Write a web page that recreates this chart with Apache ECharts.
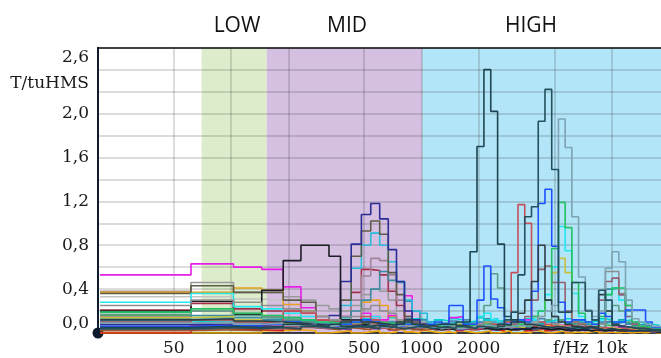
<!DOCTYPE html>
<html><head><meta charset="utf-8">
<script src="https://cdn.jsdelivr.net/npm/echarts@6/dist/echarts.min.js"></script>
<style>html,body{margin:0;padding:0;background:#fff;overflow:hidden}#c{width:661px;height:358px}</style>
</head><body><div id="c"></div>
<script>
// band edges (Hz) of the critical bands; each value holds from its edge to the next
const bandEdgesHz = [20.5,61.6,103,145,188,233,279,327,376,428,484,542,604,670,740,815,895,982,1074,1174,1281,1397,1522,1657,1803,1960,2131,2315,2515,2731,2965,3218,3493,3790,4112,4461,4840,5250,5694,6176,6698,7264,7877,8543,9265,10046,10894,11814,12810,13891,15063,16333,17710,19203];
const xTickValues = [50,100,200,500,1000,2000,5000,10000];
const xLabelValues = [50,100,200,500,1000,2000,6100,10000];
const xLabelTexts = ['50','100','200','500','1000','2000','f/Hz','10k'];
const yLabelTexts = {0:'0,0',4:'0,4',8:'0,8',12:'1,2',16:'1,6',20:'2,0',24:'T/tuHMS',26:'2,6'};
const regionNames = ['LOW','MID','HIGH'];
const regionFromHz = [70,154,1010];
const regionToHz = [154,1010,20000];

// background (low-level) series
const bgDarkBlue = [.06,.08,.07,.06,.08,.07,.05,.06,.07,.08, .06,.07,.05,.06,.08,.05,.06,.07,.05,.06, .04,.05,.07,.05,.04,.06,.05,.07,.05,.04, .05,.06,.04,.05,.07,.05,.04,.03,.05,.04, .03,.04,.05,.03,.04,.06,.04,.03,.04,.05, .03,.02,.03];
const bgRed = [.00,.07,.03,.02,.10,.12,.08,.05,.06,.07, .05,.04,.06,.03,.05,.04,.06,.03,.04,.05, .03,.04,.02,.05,.03,.04,.06,.03,.02,.04, .03,.05,.02,.03,.04,.02,.03,.05,.02,.03, .02,.03,.04,.02,.03,.02,.03,.04,.02,.03, .02,.01,.02];
const bgAmber = [.00,.00,.00,.02,.03,.02,.00,.01,.02,.00, .01,.02,.00,.01,.03,.01,.00,.02,.01,.00, .01,.00,.02,.01,.00,.01,.02,.00,.01,.02, .00,.01,.00,.02,.01,.00,.01,.02,.00,.01, .00,.01,.02,.00,.01,.00,.01,.00,.01,.00, .01,.00,.00];
const bgGreen = [.16,.12,.10,.08,.09,.10,.07,.08,.06,.09, .10,.08,.07,.09,.06,.08,.07,.05,.06,.07, .08,.06,.05,.07,.09,.06,.05,.08,.06,.05, .07,.06,.08,.05,.06,.04,.07,.05,.06,.04, .05,.06,.04,.05,.07,.06,.05,.04,.05,.03, .04,.03,.02];
const bgPurple = [.04,.05,.06,.05,.04,.06,.05,.04,.03,.05, .06,.04,.05,.03,.04,.05,.06,.04,.05,.03, .04,.05,.03,.04,.06,.04,.05,.03,.04,.05, .03,.04,.05,.03,.06,.04,.03,.05,.04,.03, .04,.05,.03,.04,.03,.05,.04,.03,.04,.03, .02,.03,.02];
const bgTeal = [.10,.12,.09,.11,.10,.08,.09,.07,.08,.10, .09,.07,.08,.10,.12,.09,.11,.08,.07,.09, .08,.10,.07,.09,.08,.10,.12,.09,.07,.08, .09,.07,.10,.08,.09,.11,.08,.07,.09,.08, .10,.08,.07,.09,.10,.08,.12,.09,.07,.08, .06,.05,.04];
const bgGray = [.03,.04,.05,.04,.06,.05,.07,.05,.04,.06, .05,.04,.06,.05,.07,.04,.05,.06,.04,.05, .06,.04,.05,.07,.05,.04,.06,.05,.04,.06, .05,.07,.04,.05,.06,.04,.05,.06,.04,.05, .04,.06,.05,.04,.05,.06,.04,.05,.03,.04, .03,.02,.02];
const bgBrown = [.02,.03,.02,.04,.03,.05,.04,.03,.05,.04, .03,.05,.04,.03,.04,.05,.03,.04,.05,.03, .04,.03,.05,.04,.03,.05,.04,.03,.04,.05, .03,.04,.03,.05,.04,.03,.04,.05,.03,.04, .03,.04,.05,.03,.04,.03,.04,.03,.04,.03, .02,.02,.01];
const bgSteel = [.09,.10,.12,.10,.14,.12,.10,.11,.09,.12, .10,.12,.09,.11,.10,.13,.11,.09,.10,.12, .09,.11,.10,.12,.09,.10,.13,.11,.09,.10, .12,.10,.09,.11,.13,.10,.09,.12,.10,.11, .09,.10,.12,.10,.11,.09,.10,.08,.09,.07, .06,.05,.04];
const bgPink = [.05,.06,.08,.07,.06,.05,.07,.06,.08,.07, .06,.08,.05,.07,.06,.05,.07,.06,.05,.08, .06,.07,.05,.06,.08,.07,.06,.05,.07,.06, .08,.05,.06,.07,.05,.06,.08,.07,.05,.06, .07,.05,.06,.08,.05,.06,.07,.05,.06,.05, .04,.03,.03];
const bgCyan = [.11,.10,.12,.13,.11,.12,.10,.12,.14,.11, .13,.12,.10,.14,.12,.11,.13,.12,.10,.12, .11,.13,.12,.10,.11,.14,.12,.13,.11,.10, .12,.11,.13,.12,.10,.11,.12,.10,.13,.11, .12,.10,.11,.13,.12,.10,.11,.12,.10,.09, .08,.07,.05];

// main series
const magenta = [.53,.63,.60,.58,.42,.23,.12,.10,.08,.12, .18,.15,.12,.16,.10,.34,.10,.06,.05,.06, .05,.14,.15,.05,.04,.08,.06,.05,.04,.05, .04,.06,.12,.08,.06,.05,.04,.05,.04,.03, .04,.05,.04,.03,.04,.05,.04,.03,.03,.04, .03,.02,.02];
const lightGray = [.33,.33,.31,.30,.22,.20,.15,.12,.10,.12, .15,.18,.15,.12,.10,.08,.07,.06,.05,.06, .05,.06,.04,.05,.06,.05,.04,.06,.05,.04, .05,.04,.06,.05,.04,.05,.04,.03,.04,.05, .04,.03,.04,.03,.04,.03,.04,.03,.03,.02, .02,.02,.01];
const gray = [.38,.46,.37,.37,.33,.30,.25,.22,.20,.25, .35,.40,.38,.30,.20,.15,.12,.10,.08,.06, .06,.07,.05,.06,.08,.06,.07,.05,.06,.05, .06,.05,.07,.06,.05,.06,.05,.04,.05,.04, .05,.04,.03,.04,.05,.04,.03,.04,.03,.03, .02,.02,.02];
const orange = [.37,.37,.41,.39,.26,.20,.10,.08,.06,.12, .28,.30,.25,.15,.12,.10,.08,.06,.05,.04, .05,.04,.06,.05,.04,.05,.08,.06,.05,.04, .05,.04,.05,.06,.05,.07,.08,.06,.04,.03, .03,.04,.03,.02,.03,.02,.03,.02,.02,.02, .02,.01,.01];
const black = [.20,.29,.17,.39,.66,.80,.80,.70,.12,.10, .08,.10,.07,.06,.08,.05,.04,.05,.04,.03, .04,.03,.05,.04,.05,.06,.04,.03,.04,.03, .03,.04,.03,.05,.04,.03,.04,.03,.02,.03, .03,.02,.03,.02,.03,.02,.02,.03,.02,.02, .02,.01,.01];
const navy = [.08,.07,.06,.08,.12,.10,.08,.16,.47,.81, 1.08,1.18,1.04,.76,.47,.20,.12,.08,.06,.05, .05,.06,.04,.05,.04,.05,.04,.03,.04,.05, .04,.03,.04,.05,.04,.03,.04,.03,.03,.02, .03,.02,.03,.02,.02,.03,.02,.02,.02,.02, .01,.01,.01];
const olive = [.36,.43,.37,.37,.30,.28,.15,.12,.30,.70, .93,1.02,.90,.55,.35,.15,.10,.08,.06,.05, .05,.04,.05,.06,.04,.05,.04,.05,.04,.03, .04,.05,.04,.03,.05,.04,.03,.04,.03,.03, .03,.02,.03,.02,.03,.02,.02,.02,.02,.02, .02,.01,.01];
const cyanMid = [.11,.14,.12,.10,.09,.10,.08,.10,.25,.59, .80,.91,.80,.65,.47,.30,.20,.18,.10,.08, .06,.05,.08,.06,.05,.07,.06,.05,.04,.05, .04,.05,.06,.04,.05,.04,.03,.04,.03,.04, .03,.04,.03,.02,.03,.02,.03,.02,.02,.02, .02,.02,.01];
const mauve = [.15,.20,.18,.15,.12,.10,.08,.09,.15,.30, .52,.68,.66,.53,.30,.15,.10,.08,.06,.05, .05,.06,.05,.04,.06,.05,.04,.05,.04,.05, .04,.05,.06,.04,.05,.04,.03,.04,.03,.04, .03,.04,.03,.02,.03,.02,.03,.02,.02,.02, .02,.01,.01];
const darkRed = [.21,.27,.22,.20,.20,.18,.12,.10,.15,.37, .58,.57,.53,.38,.25,.12,.08,.06,.05,.05, .04,.06,.05,.04,.05,.06,.05,.04,.05,.04, .05,.04,.06,.05,.04,.03,.04,.05,.04,.03, .03,.04,.03,.03,.02,.03,.02,.02,.02,.02, .02,.01,.01];
const teal = [.13,.16,.14,.12,.10,.09,.08,.07,.10,.20, .30,.40,.56,.48,.46,.29,.20,.12,.10,.08, .06,.08,.07,.05,.06,.07,.05,.06,.05,.04, .05,.06,.05,.04,.06,.05,.04,.05,.04,.05, .04,.03,.04,.05,.40,.41,.35,.20,.10,.05, .04,.03,.02];
const cyanBright = [.28,.36,.24,.22,.18,.15,.10,.08,.08,.10, .12,.15,.10,.08,.07,.06,.05,.05,.08,.06, .05,.08,.10,.06,.07,.15,.18,.12,.08,.06, .07,.08,.10,.12,.20,.35,.60,.97,.75,.36, .15,.10,.08,.12,.35,.41,.30,.15,.10,.06, .05,.04,.03];
const seaGreen = [.17,.20,.16,.14,.12,.10,.08,.07,.08,.10, .12,.10,.09,.08,.07,.08,.07,.06,.05,.06, .05,.07,.06,.05,.08,.15,.25,.54,.41,.10, .08,.07,.06,.08,.10,.12,.15,.12,.10,.08, .06,.05,.06,.05,.20,.25,.20,.10,.06,.05, .04,.03,.03];
const yellow = [.14,.15,.12,.10,.08,.07,.06,.05,.06,.08, .10,.08,.07,.06,.05,.06,.05,.04,.05,.06, .05,.06,.08,.05,.06,.07,.10,.08,.06,.05, .06,.05,.08,.10,.15,.30,.55,.68,.55,.10, .08,.06,.05,.04,.05,.04,.03,.04,.03,.03, .02,.02,.01];
const grayHigh = [.25,.30,.28,.25,.22,.20,.15,.12,.10,.15, .22,.25,.20,.18,.12,.10,.08,.07,.06,.05, .05,.06,.05,.07,.06,.08,.10,.08,.06,.05, .06,.08,.10,.08,.06,.05,.08,.10,.06,.05, .05,.04,.05,.08,.56,.56,.36,.25,.10,.06, .05,.04,.03];
const mauveHigh = [.05,.06,.05,.04,.06,.05,.04,.05,.06,.08, .10,.08,.06,.05,.06,.05,.04,.05,.04,.05, .04,.05,.06,.05,.04,.06,.08,.06,.05,.06, .08,.10,.15,.30,.58,.61,.46,.46,.20,.10, .08,.06,.05,.30,.47,.50,.35,.15,.08,.05, .04,.03,.02];
const redHigh = [.10,.12,.10,.09,.20,.18,.12,.10,.08,.12, .15,.12,.10,.08,.07,.06,.05,.06,.05,.04, .05,.04,.05,.06,.04,.05,.06,.08,.06,.10, .55,1.17,1.00,.15,.10,.08,.06,.05,.07,.06, .05,.06,.04,.05,.04,.03,.04,.03,.02,.02, .02,.02,.01];
const green = [.19,.22,.18,.16,.14,.12,.10,.09,.08,.10, .12,.10,.09,.08,.10,.08,.07,.06,.05,.06, .05,.06,.05,.07,.06,.05,.08,.06,.05,.07, .06,.08,.10,.15,.20,.30,.77,1.19,.96,.46, .18,.10,.08,.15,.35,.41,.41,.25,.10,.06, .05,.04,.03];
const blue = [.06,.07,.06,.08,.10,.08,.07,.06,.08,.10, .12,.10,.08,.07,.06,.08,.07,.06,.08,.10, .08,.25,.25,.08,.08,.30,.61,.31,.23,.08, .10,.12,.10,.38,1.18,1.31,.79,.28,.10,.12, .12,.10,.08,.18,.15,.10,.10,.21,.21,.21, .10,.05,.05];
const darkSlate = [.12,.13,.11,.10,.09,.08,.07,.08,.10,.12, .10,.09,.08,.07,.10,.12,.08,.07,.06,.05, .06,.05,.07,.06,.05,.06,.07,.06,.08,.07, .10,.18,.30,.47,.80,.30,.15,.10,.08,.06, .05,.06,.05,.35,.20,.08,.06,.05,.04,.04, .03,.03,.02];
const lightSlate = [.09,.10,.08,.09,.07,.08,.06,.07,.05,.06, .07,.06,.05,.06,.07,.06,.05,.06,.05,.04, .05,.06,.04,.05,.06,.05,.07,.06,.05,.06, .07,.06,.08,.10,.15,.20,.25,1.95,1.69,1.06, .51,.21,.15,.20,.59,.74,.65,.30,.13,.10, .08,.06,.05];
const darkTealA = [.05,.06,.05,.06,.08,.07,.06,.08,.06,.07, .06,.07,.06,.05,.08,.10,.08,.06,.07,.08, .08,.08,.10,.10,.74,1.70,2.40,2.02,.81,.15, .12,.10,.08,.07,.06,.05,.06,.05,.04,.05, .04,.05,.04,.03,.04,.03,.03,.02,.02,.02, .02,.02,.01];
const darkTealB = [.04,.05,.04,.05,.04,.06,.05,.04,.05,.06, .05,.04,.06,.05,.04,.05,.06,.05,.04,.05, .05,.04,.06,.05,.04,.06,.05,.04,.06,.12, .19,.53,1.06,1.15,1.93,2.22,1.49,.19,.19,.46, .46,.20,.12,.39,.30,.07,.06,.05,.04,.04, .03,.03,.02];

const seriesDefs = [
  [bgAmber,'#f0a800'],[bgDarkBlue,'#1a3a8a'],[bgRed,'#d42020'],[bgGreen,'#3cb44b'],[bgPurple,'#7b3294'],
  [bgTeal,'#12a4a4'],[bgGray,'#606060'],[bgBrown,'#a0522d'],[bgSteel,'#4682b4'],[bgPink,'#e377c2'],[bgCyan,'#00d0d0'],
  [lightGray,'#c4c4c4'],[gray,'#9a9a9a'],[orange,'#e8a020'],[magenta,'#e61ee6'],[darkRed,'#a3304a'],
  [mauve,'#a08498'],[teal,'#3a8aa0'],[cyanMid,'#28bcdc'],[olive,'#5e5c48'],[navy,'#2c2c96'],[black,'#1c1c24'],
  [seaGreen,'#5a9e86'],[cyanBright,'#20e8f0'],[yellow,'#c8c040'],[grayHigh,'#8f8f8f'],[mauveHigh,'#946070'],
  [redHigh,'#c4505c'],[green,'#22c060'],[blue,'#1f50ff'],[darkSlate,'#2e3e46'],[lightSlate,'#7ea3b2'],
  [darkTealA,'#1d4450'],[darkTealB,'#24505e']
];

const regionColors = ['rgb(221,237,203)','rgb(213,192,226)','rgb(179,229,248)'];
const gridLineColor = 'rgba(40,40,40,0.16)';

const chart = echarts.init(document.getElementById('c'), null, {renderer:'canvas'});
const series = [{
  type:'line', data:[], z:1, silent:true,
  markArea:{silent:true, data: regionNames.map((n,i)=>[{xAxis:regionFromHz[i], itemStyle:{color:regionColors[i]}},{xAxis:regionToHz[i]}])}
},{
  type:'line', data:[], z:2, silent:true,
  markLine:{silent:true, symbol:['none','none'], label:{show:false},
    lineStyle:{color:gridLineColor, width:2, type:'solid'},
    data: xTickValues.map(v=>({xAxis:v}))}
}];
seriesDefs.forEach(([vals,color])=>{
  series.push({
    type:'line', step:'end', symbol:'none', z:5, silent:true,
    lineStyle:{color:color, width:1.6},
    data: bandEdgesHz.map((f,i)=>[f, vals[Math.min(i, vals.length-1)]])
  });
});
const serif = 'DejaVu Serif';
chart.setOption({
  animation:false,
  grid:{left:98, width:571, top:47.7, bottom:25, outerBoundsMode:'none', containLabel:false},
  xAxis:[{
    type:'log', logBase:10, min:20, max:20000, z:3,
    axisLine:{show:true, lineStyle:{color:'#111', width:1.5}},
    axisTick:{show:false},
    minorTick:{show:false},
    splitLine:{show:false},
    axisLabel:{customValues:xLabelValues, margin:7, fontFamily:serif, fontSize:17, color:'#1a1a1a',
      formatter:(v)=>{const i=xLabelValues.findIndex(x=>Math.abs(x-v)<1e-6*x); return i>=0?xLabelTexts[i]:'';}}
  },{
    type:'log', logBase:10, min:20, max:20000, position:'top', z:3,
    axisLine:{show:true, lineStyle:{color:'#111', width:1.5}},
    axisTick:{show:false}, axisLabel:{show:false}, splitLine:{show:false}
  }],
  yAxis:{
    type:'value', min:0, max:2.6, interval:0.2, z:3,
    axisLine:{show:true, lineStyle:{color:'#0d1a30', width:2}, symbol:['circle','none'], symbolSize:[11,11]},
    axisTick:{show:false},
    splitLine:{show:true, lineStyle:{color:gridLineColor, width:2}},
    axisLabel:{margin:9, fontFamily:serif, fontSize:17, color:'#1a1a1a',
      formatter:(v)=>{const k=Math.round(v*10); const t=yLabelTexts[k]; if(!t) return '';
        if(k===26) return '{t|'+t+'}'; if(k===24) return '{n|'+t+'}'; if(k===0) return '{z|'+t+'}'; return t;},
      rich:{
        t:{fontFamily:serif, fontSize:17, color:'#1a1a1a', padding:[20,0,0,0]},
        n:{fontFamily:serif, fontSize:17, color:'#1a1a1a', padding:[28,0,0,0]},
        z:{fontFamily:serif, fontSize:17, color:'#1a1a1a', padding:[0,0,18,0]}
      }}
  },
  graphic:[
    {type:'text', x:237, y:26, style:{text:regionNames[0], font:'21px "Open Sans"', fill:'#111', align:'center', verticalAlign:'middle'}},
    {type:'text', x:347, y:26, style:{text:regionNames[1], font:'21px "Open Sans"', fill:'#111', align:'center', verticalAlign:'middle'}},
    {type:'text', x:531, y:26, style:{text:regionNames[2], font:'21px "Open Sans"', fill:'#111', align:'center', verticalAlign:'middle'}}
  ],
  series: series
});
</script></body></html>
